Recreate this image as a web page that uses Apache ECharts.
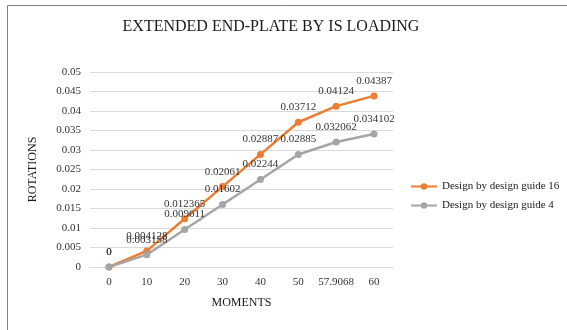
<!DOCTYPE html>
<html>
<head>
<meta charset="utf-8">
<script src="https://cdn.jsdelivr.net/npm/echarts@6/dist/echarts.min.js"></script>
<style>
  html, body { margin: 0; padding: 0; background: #fff; }
  #chart { width: 567px; height: 330px; }
</style>
</head>
<body>
<div id="chart"></div>
<script>
// Moment categories along the x axis
const moments = ['0', '10', '20', '30', '40', '50', '57.9068', '60'];
// Rotations for each design approach
const guide16 = [0, 0.004128, 0.012365, 0.02061, 0.02887, 0.03712, 0.04124, 0.04387];
const guide4 = [0, 0.003158, 0.009611, 0.01602, 0.02244, 0.02885, 0.032062, 0.034102];

const serif = '"Liberation Serif", "DejaVu Serif", serif';
const textColor = '#333333';

const chart = echarts.init(document.getElementById('chart'));

function lineSeries(name, data, color) {
  return {
    name: name,
    type: 'line',
    data: data,
    symbol: 'circle',
    symbolSize: 7,
    lineStyle: { color: color, width: 2.5 },
    itemStyle: { color: color },
    label: {
      show: true,
      position: 'top',
      distance: 6,
      color: textColor,
      fontFamily: serif,
      fontSize: 11,
      formatter: p => String(p.value)
    }
  };
}

chart.setOption({
  animation: false,
  backgroundColor: '#fff',
  graphic: [{
    type: 'rect',
    shape: { x: 7.5, y: 5.5, width: 620, height: 400 },
    style: { fill: 'none', stroke: '#7f7f7f', lineWidth: 1 },
    z: -1
  }],
  title: {
    text: 'EXTENDED END-PLATE BY IS LOADING',
    left: 266,
    top: 14,
    textAlign: 'center',
    textStyle: { fontFamily: serif, fontSize: 16, fontWeight: 'normal', color: '#1a1a1a' }
  },
  legend: {
    orient: 'vertical',
    left: 410,
    top: 181,
    padding: 0,
    itemWidth: 26,
    itemHeight: 8,
    itemGap: 8,
    textStyle: { fontFamily: serif, fontSize: 11, color: '#1a1a1a' },
    data: ['Design by design guide 16', 'Design by design guide 4']
  },
  grid: { left: 90, right: 174, top: 72, bottom: 63 },
  xAxis: {
    type: 'category',
    data: moments,
    boundaryGap: true,
    name: 'MOMENTS',
    nameLocation: 'middle',
    nameGap: 30,
    nameTextStyle: { fontFamily: serif, fontSize: 12, color: '#1a1a1a' },
    axisLine: { lineStyle: { color: '#d9d9d9' } },
    axisTick: { show: false },
    axisLabel: { interval: 0, fontFamily: serif, fontSize: 11, color: textColor, margin: 10 }
  },
  yAxis: {
    type: 'value',
    min: 0,
    max: 0.05,
    interval: 0.005,
    name: 'ROTATIONS',
    nameLocation: 'middle',
    nameGap: 51,
    nameTextStyle: { fontFamily: serif, fontSize: 12, color: '#1a1a1a' },
    axisLine: { show: false },
    axisTick: { show: false },
    splitLine: { lineStyle: { color: '#d9d9d9' } },
    axisLabel: {
      fontFamily: serif, fontSize: 11, color: textColor, margin: 9,
      formatter: v => String(parseFloat(v.toFixed(3)))
    }
  },
  series: [
    lineSeries('Design by design guide 16', guide16, '#ed7d31'),
    lineSeries('Design by design guide 4', guide4, '#a5a5a5')
  ]
});
</script>
</body>
</html>
